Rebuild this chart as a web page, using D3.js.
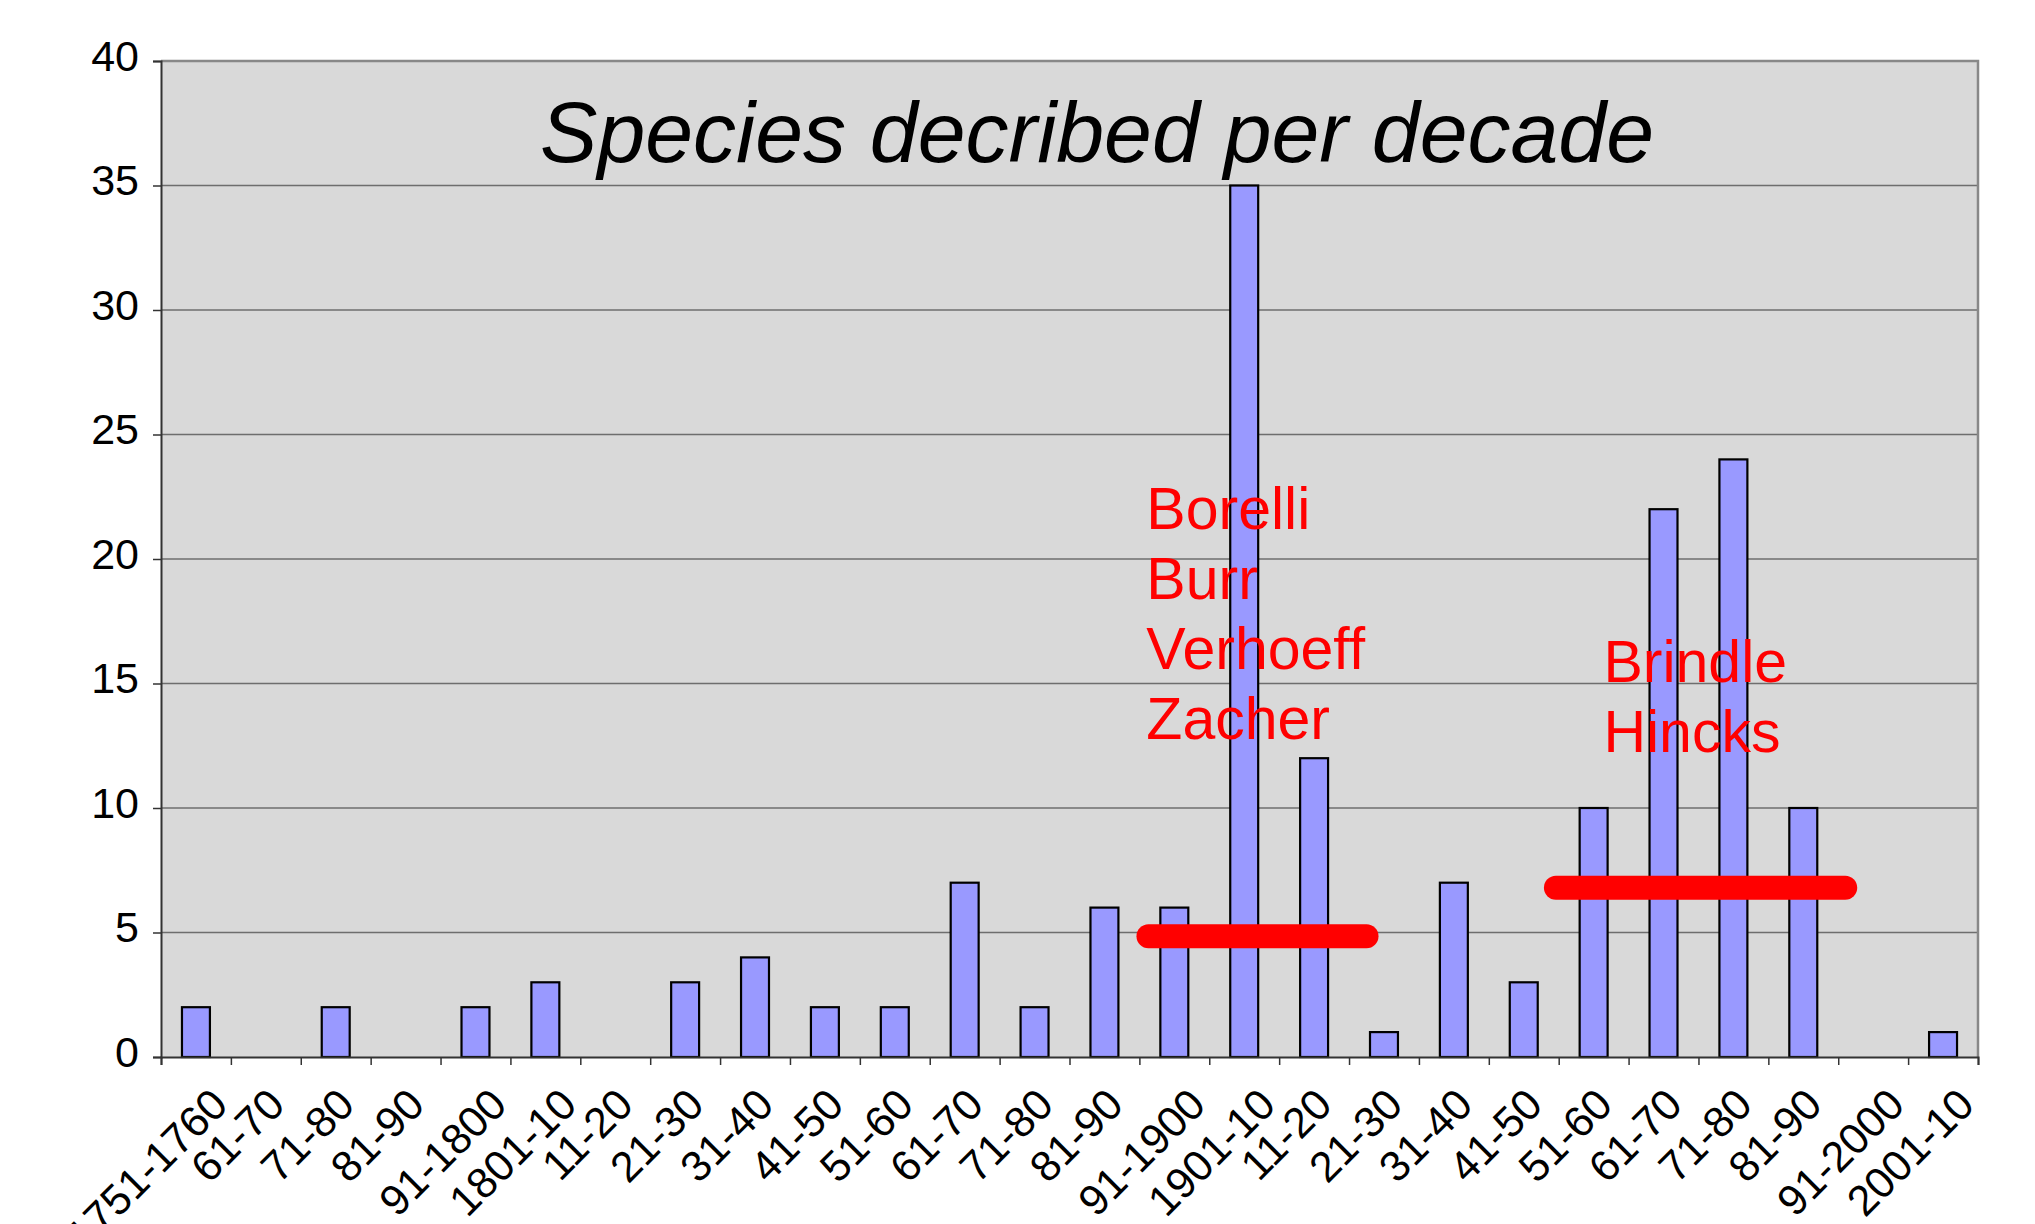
<!DOCTYPE html>
<html>
<head>
  <title>Species described per decade</title>
  <script src='https://d3js.org/d3.v7.min.js'></script>
  <style>
    body { margin: 0; background: #fff; }
    text { font-family: 'Liberation Sans', Arial, sans-serif; }
  </style>
</head>
<body>
  <script>
// Data
var categories = ['1751-1760', '61-70', '71-80', '81-90', '91-1800', '1801-10', '11-20', '21-30',
  '31-40', '41-50', '51-60', '61-70', '71-80', '81-90', '91-1900', '1901-10', '11-20', '21-30',
  '31-40', '41-50', '51-60', '61-70', '71-80', '81-90', '91-2000', '2001-10'];
var counts = [2, 0, 2, 0, 2, 3, 0, 3, 4, 2, 2, 7, 2, 6, 6, 35, 12, 1, 7, 3, 10, 22, 24, 10, 0, 1];
var yTicks = [0, 5, 10, 15, 20, 25, 30, 35, 40];

// Annotations: authors, and the span of decades they cover (in category units / counts)
var authorGroups = [['Borelli', 'Burr', 'Verhoeff', 'Zacher'], ['Brindle', 'Hincks']];
var spanStart = [14.13, 19.96];
var spanEnd = [17.25, 24.1];
var spanLevel = [4.85, 6.8];
var labelStart = [14.1, 20.64];
var labelTop = [21.2, 15.05];

var title = 'Species decribed per decade';

// Size of SVG
var width = 2035,
    height = 1224;
var plot = { left: 161, top: 61, right: 1978, bottom: 1057 };

var svg = d3.select('body')
  .append('svg')
  .attr('width', width)
  .attr('height', height);

// Scales
var x = d3.scaleBand()
  .domain(d3.range(categories.length))
  .range([plot.left, plot.right])
  .paddingInner(0.6)
  .paddingOuter(0.3);

var xPos = d3.scaleLinear()
  .domain([0, categories.length])
  .range([plot.left, plot.right]);

var y = d3.scaleLinear()
  .domain([0, 40])
  .range([plot.bottom, plot.top]);

// Plot background
svg.append('rect')
  .attr('x', plot.left)
  .attr('y', plot.top)
  .attr('width', plot.right - plot.left)
  .attr('height', plot.bottom - plot.top)
  .attr('fill', '#d9d9d9');

// Gridlines
svg.append('g')
  .selectAll('line')
  .data(yTicks.slice(1, -1))
  .enter()
  .append('line')
  .attr('x1', plot.left)
  .attr('x2', plot.right)
  .attr('y1', function(d) { return y(d); })
  .attr('y2', function(d) { return y(d); })
  .attr('stroke', '#6e6e6e')
  .attr('stroke-width', 1.5);

// Bars (empty decades get no bar)
var barData = counts
  .map(function(v, i) { return { i: i, v: v }; })
  .filter(function(d) { return d.v > 0; });

svg.append('g')
  .selectAll('rect')
  .data(barData)
  .enter()
  .append('rect')
  .attr('x', function(d) { return x(d.i); })
  .attr('y', function(d) { return y(d.v); })
  .attr('width', x.bandwidth())
  .attr('height', function(d) { return y(0) - y(d.v); })
  .attr('fill', '#9999ff')
  .attr('stroke', '#000')
  .attr('stroke-width', 2.2);

// Top and right border
svg.append('path')
  .attr('d', 'M' + plot.left + ',' + plot.top + 'H' + plot.right + 'V' + plot.bottom)
  .attr('fill', 'none')
  .attr('stroke', '#888')
  .attr('stroke-width', 2.5);

// Y axis
var yAxis = svg.append('g')
  .attr('transform', 'translate(' + plot.left + ',0)')
  .call(d3.axisLeft(y).tickValues(yTicks).tickSize(8).tickPadding(14));
yAxis.select('.domain').attr('stroke', '#333').attr('stroke-width', 2);
yAxis.selectAll('.tick line').attr('stroke', '#333').attr('stroke-width', 1.5);
yAxis.selectAll('.tick text')
  .attr('font-size', 43)
  .attr('font-family', "'Liberation Sans', Arial, sans-serif")
  .attr('fill', '#000')
  .attr('dy', '0.22em');

// X axis: ticks at category boundaries
var xAxis = svg.append('g')
  .attr('transform', 'translate(0,' + plot.bottom + ')')
  .call(d3.axisBottom(xPos).tickValues(d3.range(categories.length + 1)).tickSize(8).tickFormat(''));
xAxis.select('.domain').attr('stroke', '#333').attr('stroke-width', 2);
xAxis.selectAll('.tick line').attr('stroke', '#333').attr('stroke-width', 1.5);

// Rotated category labels, text end tucked under its category
svg.append('g')
  .selectAll('text')
  .data(categories)
  .enter()
  .append('text')
  .text(function(d) { return d; })
  .attr('font-size', 43)
  .attr('fill', '#000')
  .attr('text-anchor', 'end')
  .attr('transform', function(d, i) {
    var len = this.getComputedTextLength();
    var cx = x(i) + x.bandwidth() / 2;
    var ex = cx + Math.min(34, 0.26 * len - 7.6);
    return 'translate(' + ex + ',' + (plot.bottom + 50) + ') rotate(-45)';
  });

// Red spans
svg.append('g')
  .selectAll('line')
  .data(spanLevel)
  .enter()
  .append('line')
  .attr('x1', function(d, i) { return xPos(spanStart[i]); })
  .attr('x2', function(d, i) { return xPos(spanEnd[i]); })
  .attr('y1', function(d) { return y(d); })
  .attr('y2', function(d) { return y(d); })
  .attr('stroke', '#ff0000')
  .attr('stroke-width', 24)
  .attr('stroke-linecap', 'round');

// Author names
authorGroups.forEach(function(names, k) {
  svg.append('g')
    .selectAll('text')
    .data(names)
    .enter()
    .append('text')
    .text(function(d) { return d; })
    .attr('x', xPos(labelStart[k]))
    .attr('y', function(d, i) { return y(labelTop[k]) + i * 70; })
    .attr('font-size', 59)
    .attr('fill', '#ff0000');
});

// Title
svg.append('text')
  .attr('x', 1097)
  .attr('y', 162)
  .attr('text-anchor', 'middle')
  .attr('font-size', 86)
  .attr('font-style', 'italic')
  .attr('fill', '#000')
  .text(title);
  </script>
</body>
</html>
